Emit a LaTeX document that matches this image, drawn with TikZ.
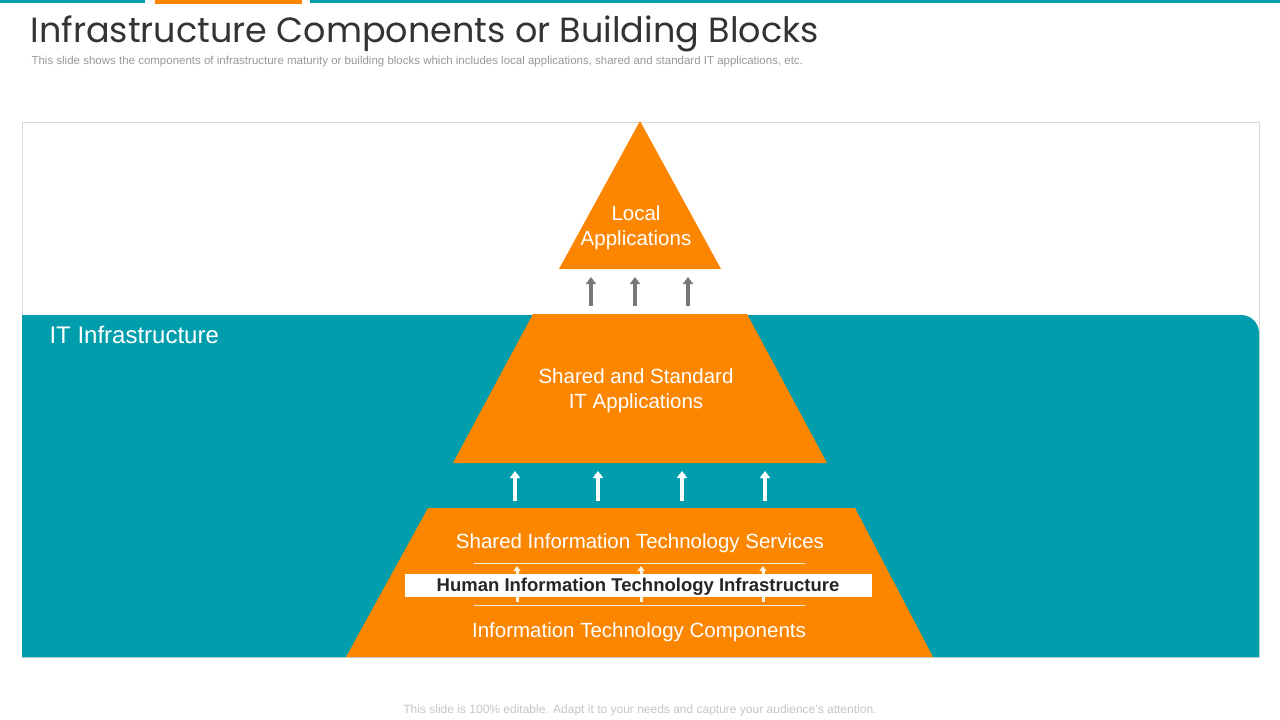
\documentclass[tikz,border=0pt]{standalone}
\usepackage{fontspec}
\setmainfont{Liberation Sans}
\newfontfamily\titlefont{Poppins}
\usetikzlibrary{arrows.meta}
\definecolor{teal}{RGB}{0,158,173}
\definecolor{orng}{RGB}{253,134,0}
\definecolor{gry}{RGB}{120,120,120}
\tikzset{
  wtxt/.style={text=white,font=\fontsize{20.5pt}{25pt}\selectfont,align=center},
  uparrow/.style={-{Triangle[width=10pt,length=7pt]},line width=4pt},
  orshape/.style={fill=orng,draw=none}
}
\begin{document}
\begin{tikzpicture}[x=1pt,y=-1pt]
\useasboundingbox (0,0) rectangle (1280,720);
\fill[white] (0,0) rectangle (1280,720);
\fill[teal] (0,0) rectangle (145,3);
\fill[orng] (155,0) rectangle (302,4);
\fill[teal] (310,0) rectangle (1280,3);
\node[anchor=west,text=black!80,font=\titlefont\fontsize{35pt}{40pt}\selectfont] (title) at (27,34) {Infrastructure Components or Building Blocks};
\node[anchor=west,text=gray!80,font=\fontsize{11.5pt}{13pt}\selectfont] (sub) at (28,62) {This slide shows the components of infrastructure maturity or building blocks which includes local applications, shared and standard IT applications, etc.};
\draw[gray!30] (22,122) rectangle (1259,657);
\fill[teal] (22,657) -- (22,315) -- (1241,315) arc[start angle=-90,end angle=0,radius=18] -- (1259,657) -- cycle;
\node[anchor=west,text=white,font=\fontsize{24pt}{28pt}\selectfont] (it) at (46,335) {IT Infrastructure};
% top triangle
\fill[orshape] (640,121) -- (721,269) -- (559,269) -- cycle;
\node[wtxt] (la) at (636,228) {Local\\Applications};
\foreach \x in {591,635,688} \draw[uparrow,gry] (\x,306) -- (\x,277);
% middle
\fill[orshape] (533,314) -- (747,314) -- (827,463) -- (453,463) -- cycle;
\node[wtxt] (ss) at (636,391) {Shared and Standard\\IT Applications};
\foreach \x in {515,598,682,765} \draw[uparrow,white] (\x,501) -- (\x,471);
% bottom
\fill[orshape] (428,508) -- (855,508) -- (933,657) -- (346,657) -- cycle;
\node[wtxt] (sits) at (640,543) {Shared Information Technology Services};
\draw[white!85!orng] (474,563) -- (805,563);
\draw[white!85!orng] (474,605) -- (805,605);
\foreach \x in {517,641,763} \draw[-{Triangle[width=7pt,length=5pt]},line width=3pt,white!90!orng] (\x,602) -- (\x,566);
\fill[white] (405,574) rectangle (872,597);
\node[text=black!85,font=\bfseries\fontsize{18.5pt}{20pt}\selectfont] (hiti) at (638,586.5) {Human Information Technology Infrastructure};
\node[wtxt] (itc) at (639,632) {Information Technology Components};
\node[text=gray!45,font=\fontsize{12pt}{14pt}\selectfont] (foot) at (640,710) {This slide is 100\% editable. Adapt it to your needs and capture your audience's attention.};
\end{tikzpicture}
\end{document}
